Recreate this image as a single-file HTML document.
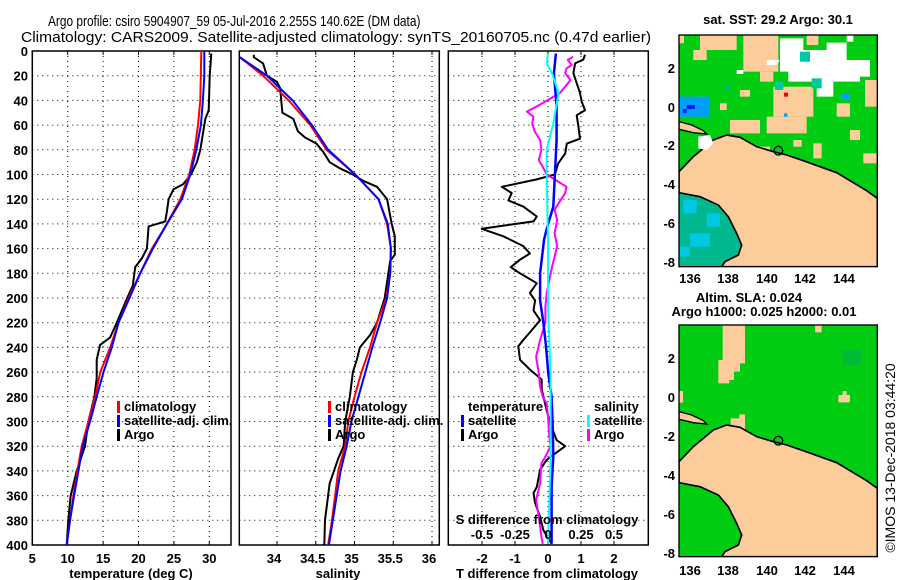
<!DOCTYPE html>
<html><head><meta charset="utf-8"><style>
html,body{margin:0;padding:0;background:#fff;width:900px;height:580px;overflow:hidden}
svg{display:block;font-family:"Liberation Sans",sans-serif}
text{font-weight:bold;font-size:13px;fill:#000}
</style></head><body>
<svg id="chart" width="900" height="580" viewBox="0 0 900 580">
<text id="t1" x="48" y="26" style="font-weight:normal;font-size:15px">Argo profile: csiro 5904907_59 05-Jul-2016 2.255S 140.62E (DM data)</text>
<text id="t2" x="21" y="42" style="font-weight:normal;font-size:15px">Climatology: CARS2009. Satellite-adjusted climatology: synTS_20160705.nc (0.47d earlier)</text>

<!-- Map 1: SST -->
<text x="778" y="24" text-anchor="middle">sat. SST: 29.2 Argo: 30.1</text>
<g transform="translate(660,0) scale(0.33333)">
  <clipPath id="c1"><rect x="57" y="105" width="595" height="695"/></clipPath>
  <g clip-path="url(#c1)">
  <rect x="57" y="105" width="595" height="695" fill="#00cc11"/>
  <g fill="#fccc9a">
    <rect x="57" y="105" width="15" height="25"/><rect x="120" y="105" width="110" height="45"/><rect x="100" y="150" width="40" height="30"/>
    <rect x="250" y="105" width="105" height="110"/><rect x="300" y="215" width="40" height="30"/><rect x="340" y="260" width="120" height="90"/><rect x="320" y="350" width="120" height="50"/>
    <rect x="210" y="360" width="90" height="40"/><rect x="440" y="105" width="35" height="30"/><rect x="510" y="180" width="40" height="20"/>
    <rect x="615" y="240" width="37" height="80"/><rect x="530" y="310" width="40" height="40"/><rect x="570" y="390" width="30" height="30"/>
    <rect x="460" y="430" width="25" height="45"/><rect x="610" y="460" width="40" height="30"/><rect x="300" y="440" width="30" height="15"/>
    <rect x="240" y="270" width="30" height="20"/><rect x="180" y="310" width="20" height="20"/><rect x="400" y="420" width="25" height="20"/>
  </g>
  <g fill="#fff">
    <polygon points="360,115 430,115 430,150 500,150 500,128 560,128 560,180 630,180 630,230 600,230 600,245 520,245 520,290 470,290 470,245 385,245 385,215 360,215 360,180 320,180 320,195 350,195 360,178"/>
    <rect x="230" y="210" width="20" height="12"/><rect x="560" y="105" width="20" height="20"/>
  </g>
  <g fill="#00c8a0"><rect x="420" y="155" width="30" height="30"/><rect x="345" y="245" width="25" height="25"/><rect x="455" y="235" width="30" height="30"/></g>
  <g fill="#00a0ff"><rect x="60" y="290" width="90" height="60"/><rect x="545" y="280" width="25" height="20"/><rect x="200" y="258" width="10" height="10"/><rect x="372" y="340" width="10" height="10"/></g>
  <g fill="#0020ff"><rect x="80" y="315" width="25" height="12"/><rect x="68" y="327" width="12" height="12"/><rect x="57" y="372" width="12" height="12"/></g>
  <rect x="372" y="278" width="12" height="12" fill="#ff0000"/>
  <polygon points="57,580 120,590 175,615 205,650 230,700 245,735 235,765 195,785 185,800 57,800" fill="#00b890"/>
  <g fill="#00c8e0"><rect x="70" y="600" width="40" height="40"/><rect x="90" y="700" width="60" height="40"/><rect x="140" y="640" width="40" height="40"/><rect x="60" y="740" width="30" height="30"/></g>
  <polygon points="57,515 100,470 130,445 160,420 200,405 240,412 290,440 340,455 380,465 430,482 480,500 530,518 580,548 620,572 652,595 652,800 185,800 195,785 235,765 245,735 230,700 205,650 175,615 120,590 57,578" fill="#fccc9a" stroke="#000" stroke-width="5"/>
  <polygon points="57,365 95,375 130,392 140,402 100,398 57,388" fill="#fccc9a" stroke="#000" stroke-width="4"/>
  <polygon points="115,410 150,405 160,430 140,450 115,445" fill="#fff"/>
  <circle cx="355" cy="452" r="13" fill="none" stroke="#000" stroke-width="4"/>
  </g>
  <rect x="57" y="105" width="595" height="695" fill="none" stroke="#000" stroke-width="4"/>
</g>
<g>
  <text x="690" y="283" text-anchor="middle">136</text><text x="728" y="283" text-anchor="middle">138</text><text x="767" y="283" text-anchor="middle">140</text><text x="805" y="283" text-anchor="middle">142</text><text x="844" y="283" text-anchor="middle">144</text>
  <text x="675" y="73" text-anchor="end">2</text><text x="675" y="112" text-anchor="end">0</text><text x="675" y="150" text-anchor="end">-2</text><text x="675" y="189" text-anchor="end">-4</text><text x="675" y="228" text-anchor="end">-6</text><text x="675" y="267" text-anchor="end">-8</text>
</g>

<!-- Map 2: SLA -->
<text x="749" y="302" text-anchor="middle">Altim. SLA: 0.024</text>
<text x="764" y="316" text-anchor="middle">Argo h1000: 0.025 h2000: 0.01</text>
<g transform="translate(660,285) scale(0.33333)">
  <clipPath id="c2"><rect x="57" y="120" width="595" height="695"/></clipPath>
  <g clip-path="url(#c2)">
  <rect x="57" y="120" width="595" height="695" fill="#00cc11"/>
  <g fill="#fccc9a"><polygon points="188,120 255,120 255,235 240,235 240,260 222,260 222,285 208,285 208,295 175,295 175,225 188,225"/>
    <polygon points="222,400 238,400 238,388 255,388 255,440 212,440 212,400"/>
    <rect x="465" y="120" width="20" height="22"/><rect x="57" y="318" width="12" height="35"/><polygon points="548,318 560,318 560,330 570,330 570,352 535,352 535,330 548,330"/>
  </g>
  <rect x="548" y="195" width="55" height="45" fill="#00bb33"/>
  <g transform="translate(0,15)">
  <polygon points="57,515 100,470 130,445 160,420 200,405 240,412 290,440 340,455 380,465 430,482 480,500 530,518 580,548 620,572 652,595 652,800 185,800 195,785 235,765 245,735 230,700 205,650 175,615 120,590 57,578" fill="#fccc9a" stroke="#000" stroke-width="5"/>
  <polygon points="57,365 95,375 130,392 140,402 100,398 57,388" fill="#fccc9a" stroke="#000" stroke-width="4"/>
  <circle cx="355" cy="452" r="13" fill="none" stroke="#000" stroke-width="4"/>
  </g>
  </g>
  <rect x="57" y="120" width="595" height="695" fill="none" stroke="#000" stroke-width="4"/>
</g>
<g>
  <text x="690" y="575" text-anchor="middle">136</text><text x="728" y="575" text-anchor="middle">138</text><text x="767" y="575" text-anchor="middle">140</text><text x="805" y="575" text-anchor="middle">142</text><text x="844" y="575" text-anchor="middle">144</text>
  <text x="675" y="363" text-anchor="end">2</text><text x="675" y="402" text-anchor="end">0</text><text x="675" y="441" text-anchor="end">-2</text><text x="675" y="480" text-anchor="end">-4</text><text x="675" y="519" text-anchor="end">-6</text><text x="675" y="558" text-anchor="end">-8</text>
</g>
<text transform="translate(895,458) rotate(-90)" text-anchor="middle" style="font-weight:normal;font-size:14px">©IMOS 13-Dec-2018 03:44:20</text>
</svg>
<script>
// ---- data ----
const depthTicks = [0,20,40,60,80,100,120,140,160,180,200,220,240,260,280,300,320,340,360,380,400];
const tTicks = [5,10,15,20,25,30];
const sTicks = [34,34.5,35,35.5,36];
const dTTicks = [-2,-1,0,1,2];
const dSTickLabels = ['-0.5','-0.25','0','0.25','0.5'];
const dSTicks = [-0.5,-0.25,0,0.25,0.5];

const climTDepth = [0,40,60,80,100,120,140,160,180,200,220,240,260,280,300,320,340,360,380,400];
const climT      = [28.87,28.73,28.40,27.92,27.17,25.90,24.01,21.89,20.24,18.6,17.17,16.0,14.6,13.87,12.92,11.98,11.37,10.8,10.33,9.86];
const satTDepth  = [0,20,40,60,80,100,120,140,160,180,200,220,240,260,280,300,320,340,360,380,400];
const satT       = [29.29,29.29,29.10,28.82,28.16,27.31,26.13,24.01,22.03,20.24,18.73,17.17,16.23,15.05,14.10,13.16,12.12,11.51,10.90,10.33,9.86];
const argoTDepth = [2,20,48,55,60,80,90,100,108,112,120,130,138,142,160,168,175,190,200,220,232,238,250,265,280,300,320,340,360,380,400];
const argoT      = [30.28,30.05,29.91,29.43,29.29,28.73,28.25,27.41,26.27,24.95,24.25,24.01,23.77,21.42,21.18,20.47,19.53,19.20,18.4,16.93,15.99,14.58,14.10,14.10,13.77,12.92,12.45,11.27,10.42,10.09,9.86];

const climSDepth = [5,20,40,60,80,100,120,140,160,180,200,220,240,260,280,300,320,340,360,380,400];
const climS      = [33.52,33.82,34.15,34.43,34.64,35.01,35.31,35.42,35.47,35.46,35.41,35.29,35.20,35.09,35.00,34.92,34.88,34.79,34.75,34.71,34.66];
const satSDepth  = [5,20,40,60,80,100,120,140,160,180,200,220,240,260,280,300,320,340,360,380,400];
const satS       = [33.52,33.87,34.20,34.45,34.66,35.01,35.31,35.43,35.47,35.46,35.42,35.33,35.23,35.14,35.05,34.96,34.90,34.82,34.77,34.72,34.67];
const argoSDepth = [3,5,10,20,25,30,50,55,65,70,75,82,90,95,100,105,110,120,140,150,165,170,200,220,230,240,250,260,280,300,320,330,350,360,380,400];
const argoS      = [33.70,33.70,33.82,33.87,34.00,34.04,34.07,34.21,34.27,34.36,34.51,34.60,34.68,34.81,34.98,35.11,35.29,35.42,35.48,35.52,35.52,35.46,35.39,35.29,35.20,35.07,35.03,34.98,34.94,34.88,34.86,34.79,34.68,34.66,34.62,34.61];

const dTargoDepth = [3,7,10,18,26,34,41,48,52,61,71,75,83,91,100,104,110,115,121,126,134,138,144,150,158,164,169,175,180,188,196,202,210,218,226,234,239,250,258,266,274,291,301,315,320,327,331,339,353,358,366,377,388,399];
const dTargo      = [1.12,1.07,0.82,0.77,0.87,0.97,1.02,1.12,0.87,0.92,0.97,0.57,0.52,0.31,0.21,-0.34,-1.40,-1.10,-1.20,-0.75,-0.34,-0.44,-2.01,-1.35,-0.75,-0.55,-0.85,-1.13,-0.85,-0.34,-0.55,-0.39,-0.44,-0.24,-0.49,-0.75,-0.90,-0.85,-0.55,-0.19,-0.19,-0.04,0.06,0.26,0.52,0.16,-0.04,-0.24,-0.34,-0.44,-0.39,-0.24,-0.14,0.11];
const dTsatDepth  = [2,18,45,72,100,126,144,153,180,202,220,239,261,280,301,328,353,399];
const dTsat       = [0.24,0.18,0.26,0.26,0.21,0.16,-0.04,-0.12,-0.24,-0.24,-0.14,-0.06,0.01,0.11,0.14,0.16,0.11,0.11];
const dSargoDepth = [4.6,7.3,11.3,14,18,23.5,28.9,34,39.7,45.1,49.1,53.2,58.6,65.3,72.1,80,88.3,93.7,100,104,110,115,123.3,128.7,136.8,147.6,158,166.5,175,196,207,220,234,247.5,261,272,280,285.3,296,312.3,320,328.5,333.9,350,363.6,377,393.3,399];
const dSargo      = [0.19,0.15,0.18,0.14,0.13,0.17,0.13,0.09,0.00,-0.09,-0.16,-0.11,-0.12,-0.10,-0.06,-0.05,-0.07,-0.04,-0.01,0.05,0.14,0.13,0.08,0.05,0.07,0.05,0.07,0.05,0.03,-0.01,-0.02,-0.02,-0.06,-0.09,-0.07,-0.06,-0.04,-0.01,0.00,0.01,0.02,-0.02,-0.05,-0.06,-0.09,-0.07,-0.05,-0.04];
const dSsatDepth  = [1.9,10,18,34,58.6,80,104,153,207,261,280,328.5,399];
const dSsat       = [0.00,-0.01,0.03,0.08,0.04,-0.01,-0.01,0.00,0.00,0.02,0.02,0.02,0.00];

// ---- scales ----
const NS='http://www.w3.org/2000/svg';
const svg=document.getElementById('chart');
// fit titles horizontally
[['t1',48,373],['t2',21,631]].forEach(([id,x0,w])=>{const t=document.getElementById(id);const nat=t.getComputedTextLength();if(nat>0){t.setAttribute('x',0);t.setAttribute('transform','translate('+x0+',0) scale('+(w/nat)+',1)');}});
const yTop=51, yBot=545;
const yS=d=>yTop+d*(yBot-yTop)/400;
const P1={l:32.3,r:231,x:v=>32.3+(v-5)*7.08};
const P2={l:239.3,r:439.3,x:v=>277+(v-34)*77.5};
const P3={l:448.3,r:648.3,x:v=>548+v*33};
const xS=v=>548+v*4*33;
function el(tag,attrs,parent){const e=document.createElementNS(NS,tag);for(const k in attrs)e.setAttribute(k,attrs[k]);(parent||svg).appendChild(e);return e;}
function txt(x,y,s,anchor,parent){const t=el('text',{x:x,y:y,'text-anchor':anchor||'middle'},parent);t.textContent=s;return t;}

function panel(P,name,xticks){
  const g=el('g',{});
  
  
  depthTicks.forEach((d,i)=>{ if(i>0&&i<depthTicks.length-1){const ln=el('line',{x1:P.l,x2:P.r,y1:yS(d),y2:yS(d),stroke:'#000','stroke-width':1,'stroke-dasharray':'1,4'},g);
    
    }});
  xticks.forEach(v=>{const x=P.x(v);const ln=el('line',{x1:x,x2:x,y1:yTop,y2:yBot,stroke:'#000','stroke-width':1,'stroke-dasharray':'1,4'},g);
    
    
    el('line',{x1:x,x2:x,y1:yTop,y2:yTop+4,stroke:'#000'},g);el('line',{x1:x,x2:x,y1:yBot,y2:yBot-4,stroke:'#000'},g);});
  const fr=el('rect',{x:P.l,y:yTop,width:P.r-P.l,height:yBot-yTop,fill:'none',stroke:'#000','stroke-width':1.5},g);
  
  
  return g;
}
function line(g,depths,vals,xf,color,w,name){
  const pts=depths.map((d,i)=>xf(vals[i]).toFixed(1)+','+yS(d).toFixed(1)).join(' ');
  const p=el('polyline',{points:pts,fill:'none',stroke:color,'stroke-width':w,'stroke-linejoin':'round'},g);
  
  
}
function legend(g,x,y,items){items.forEach((it,i)=>{el('rect',{x:x,y:y+i*14-10,width:3,height:12,fill:it[1]},g);const t=txt(x+7,y+i*14,it[0],'start',g);
  
  });}

// Panel 1
const g1=panel(P1,'temperature-panel',tTicks);
line(g1,argoTDepth,argoT,P1.x,'#000',2,'argo-temperature-line');
line(g1,climTDepth,climT,P1.x,'#ff0000',2,'climatology-temperature-line');
line(g1,satTDepth,satT,P1.x,'#0000ff',2,'satellite-temperature-line');
legend(g1,117,411,[['climatology','#ff0000'],['satellite-adj. clim.','#0000ff'],['Argo','#000']]);
depthTicks.forEach(d=>{const t=txt(28,yS(d)+5,String(d),'end');
  
  });
tTicks.forEach(v=>{const t=txt(P1.x(v),563,String(v));
  
  });
const a1=txt(131,578,'temperature (deg C)');



// Panel 2
const g2=panel(P2,'salinity-panel',sTicks);
line(g2,argoSDepth,argoS,P2.x,'#000',2,'argo-salinity-line');
line(g2,climSDepth,climS,P2.x,'#ff0000',2,'climatology-salinity-line');
line(g2,satSDepth,satS,P2.x,'#0000ff',2,'satellite-salinity-line');
legend(g2,328,411,[['climatology','#ff0000'],['satellite-adj. clim.','#0000ff'],['Argo','#000']]);
sTicks.forEach(v=>{const t=txt(P2.x(v)-3,563,String(v));
  
  });
const a2=txt(338,578,'salinity');



// Panel 3
const g3=panel(P3,'difference-panel',dTTicks);
line(g3,dTargoDepth,dTargo,P3.x,'#000',2,'argo-temperature-difference-line');
line(g3,dSargoDepth,dSargo,xS,'#ff00ff',2,'argo-salinity-difference-line');
line(g3,dTsatDepth,dTsat,P3.x,'#0000ff',2.5,'satellite-temperature-difference-line');
line(g3,dSsatDepth,dSsat,xS,'#00ffff',2,'satellite-salinity-difference-line');
const lt=txt(468,411,'temperature','start',g3);


legend(g3,461,425,[['satellite','#0000ff'],['Argo','#000']]);
const ls=txt(594,411,'salinity','start',g3);


legend(g3,587,425,[['satellite','#00ffff'],['Argo','#ff00ff']]);
const st=txt(547,524,'S difference from climatology');


dSTicks.forEach((v,i)=>{const t=txt(xS(v),539,dSTickLabels[i]);
  
  });
dTTicks.forEach(v=>{const t=txt(P3.x(v),563,String(v));
  
  });
const a3=txt(547,578,'T difference from climatology');


</script>
</body></html>
